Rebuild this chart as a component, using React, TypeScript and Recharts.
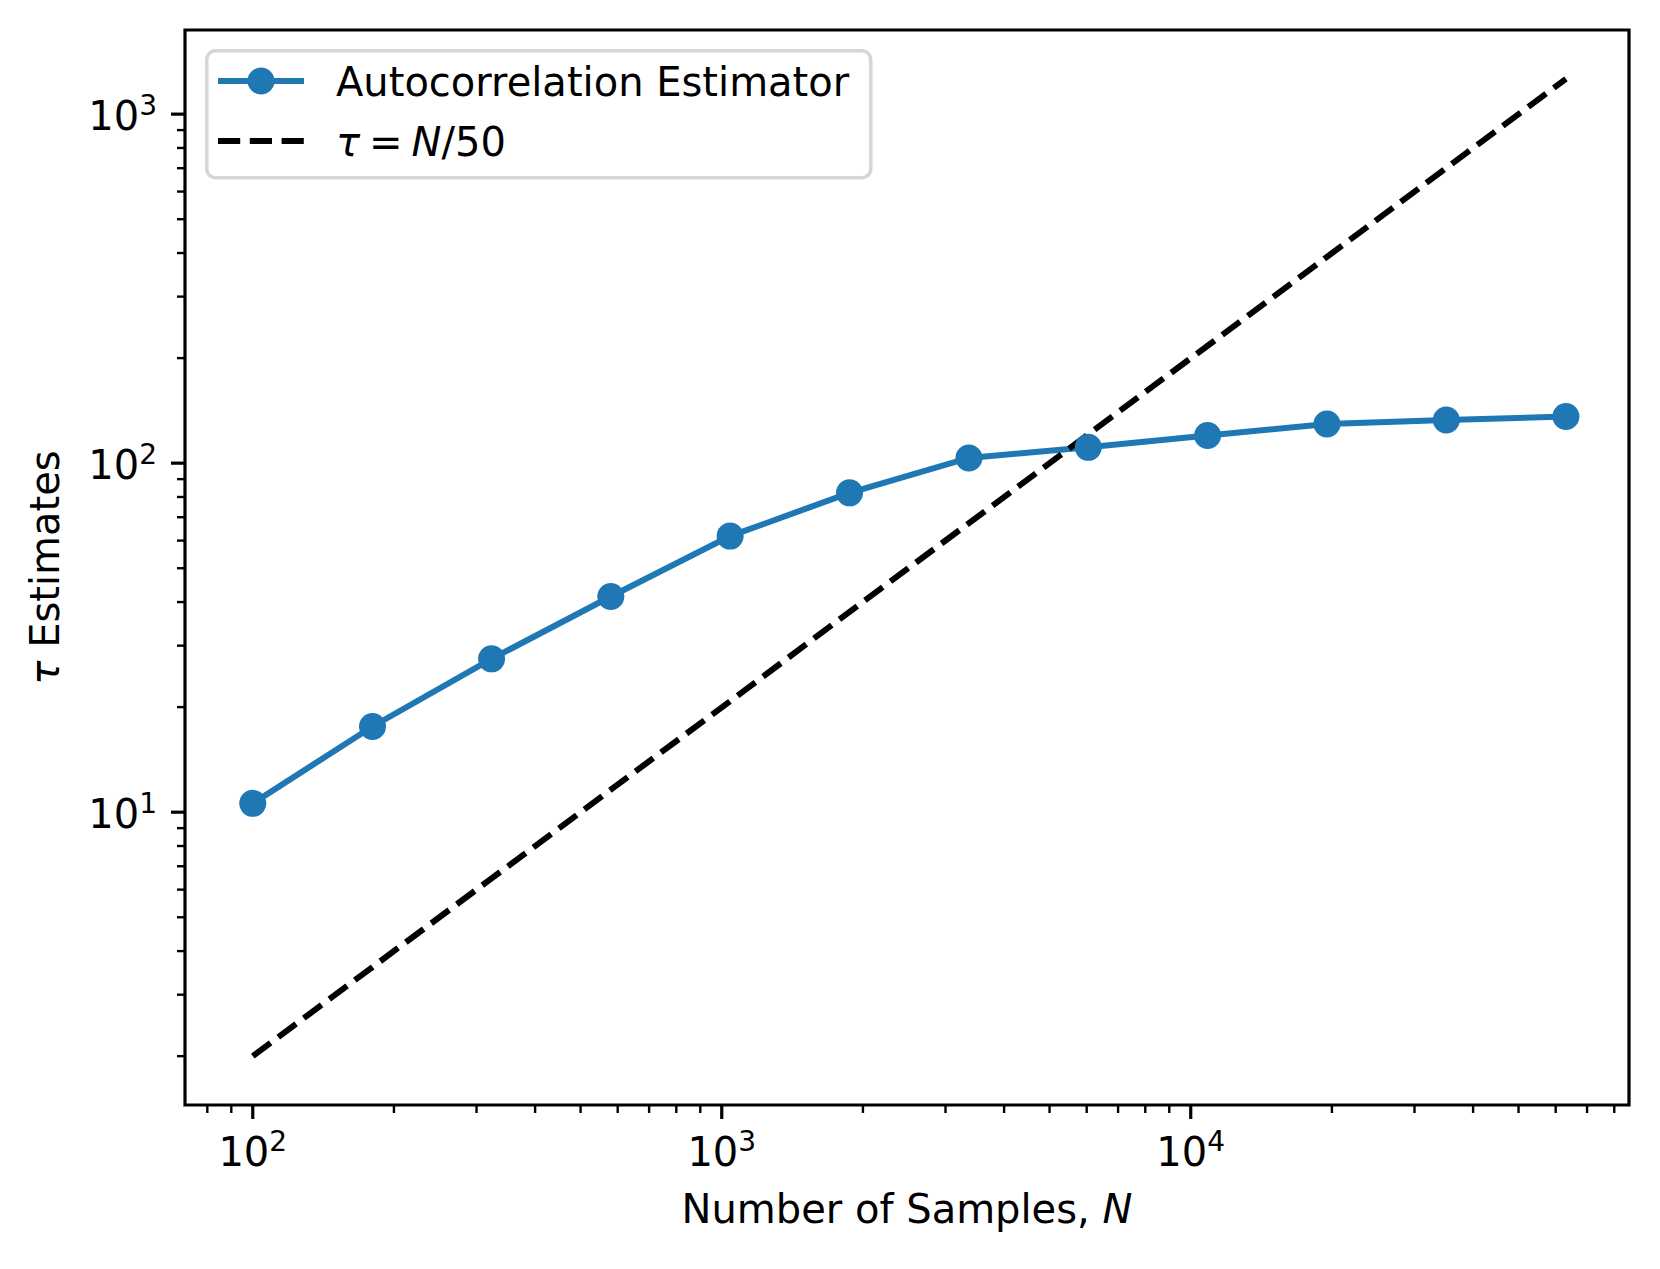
import React from "react";
import { LineChart, Line, XAxis, YAxis, ReferenceArea, Legend } from "recharts";

// N values and the autocorrelation tau estimates
const sampleCounts = [100, 180, 323, 580, 1042, 1873, 3365, 6046, 10864, 19519, 35070, 63096];
const tauEstimates = [10.6, 17.6, 27.5, 41.5, 61.8, 82.2, 103.5, 111, 120, 129.5, 133, 136];
// reference line tau = N/50
const referenceTau = [2, 3.6, 6.46, 11.6, 20.8, 37.5, 67.3, 121, 217, 390, 701, 1262];

const xMajorTicks = [100, 1000, 10000];
const xMinorTicks = [
  80, 90, 200, 300, 400, 500, 600, 700, 800, 900, 2000, 3000, 4000, 5000, 6000, 7000, 8000,
  9000, 20000, 30000, 40000, 50000, 60000, 70000, 80000,
];
const yMajorTicks = [10, 100, 1000];
const yMinorTicks = [2, 3, 4, 5, 6, 7, 8, 9, 20, 30, 40, 50, 60, 70, 80, 90, 200, 300, 400, 500, 600, 700, 800, 900];

const xDomain = [71.7, 86000];
const yDomain = [1.449, 1742];

const seriesName = "Autocorrelation Estimator";
const blue = "#1f77b4";
const font = "'DejaVu Sans', sans-serif";

const data = sampleCounts.map((n, i) => ({ n, tau: tauEstimates[i], ref: referenceTau[i] }));

const exponent = (v: number) => String(Math.round(Math.log10(v)));

const XTick = ({ x, y, payload }: any) => {
  const v = payload.value;
  const major = xMajorTicks.includes(v);
  return (
    <g>
      <line x1={x} x2={x} y1={y} y2={y + (major ? 14 : 8)} stroke="#000" strokeWidth={major ? 3.2 : 2.4} />
      {major && (
        <text x={x} y={y + 61} textAnchor="middle" fontFamily={font} fontSize={40} fill="#000">
          10
          <tspan dy={-15} fontSize={28}>
            {exponent(v)}
          </tspan>
        </text>
      )}
    </g>
  );
};

const YTick = ({ x, y, payload }: any) => {
  const v = payload.value;
  const major = yMajorTicks.includes(v);
  return (
    <g>
      <line x1={x} x2={x - (major ? 14 : 8)} y1={y} y2={y} stroke="#000" strokeWidth={major ? 3.2 : 2.4} />
      {major && (
        <text x={x - 28} y={y + 16} textAnchor="end" fontFamily={font} fontSize={40} fill="#000">
          10
          <tspan dy={-15} fontSize={28}>
            {exponent(v)}
          </tspan>
        </text>
      )}
    </g>
  );
};

const XTitle = ({ viewBox }: any) => (
  <text
    x={viewBox.x + viewBox.width / 2}
    y={viewBox.y + 118}
    textAnchor="middle"
    fontFamily={font}
    fontSize={40}
    fill="#000"
  >
    Number of Samples, <tspan fontStyle="italic">N</tspan>
  </text>
);

const YTitle = ({ viewBox }: any) => {
  const cx = 59;
  const cy = viewBox.y + viewBox.height / 2;
  return (
    <text
      x={cx}
      y={cy}
      transform={`rotate(-90, ${cx}, ${cy})`}
      textAnchor="middle"
      fontFamily={font}
      fontSize={40}
      fill="#000"
    >
      <tspan fontStyle="italic">τ</tspan> Estimates
    </text>
  );
};

const LegendBox = () => (
  <svg width={668} height={131} style={{ display: "block" }}>
    <rect x={1.75} y={1.75} width={664} height={127} rx={9} fill="#fff" fillOpacity={0.8} stroke="#d6d6d6" strokeWidth={3.5} />
    <line x1={13} x2={99} y1={32} y2={32} stroke={blue} strokeWidth={6} />
    <circle cx={56} cy={32} r={13.5} fill={blue} />
    <text x={131} y={46.5} fontFamily={font} fontSize={40} fill="#000">
      {seriesName}
    </text>
    <line x1={13} x2={99} y1={92} y2={92} stroke="#000" strokeWidth={6} strokeDasharray="22.2 9.6" />
    <text x={131} y={106.5} fontFamily={font} fontSize={40} fill="#000">
      <tspan fontStyle="italic">τ</tspan>
      <tspan dx={9}>=</tspan>
      <tspan dx={9} fontStyle="italic">N</tspan>/50
    </text>
  </svg>
);

export default function App() {
  return (
    <div style={{ position: "absolute", left: 0, top: 0, background: "#fff" }}>
      <LineChart width={1660} height={1269} data={data} margin={{ top: 30, right: 31, left: 0, bottom: 0 }}>
        <XAxis
          dataKey="n"
          type="number"
          scale="log"
          domain={xDomain}
          allowDataOverflow
          ticks={[...xMajorTicks, ...xMinorTicks].sort((a, b) => a - b)}
          interval={0}
          tick={<XTick />}
          tickLine={false}
          tickSize={0}
          tickMargin={0}
          axisLine={false}
          height={164}
          label={<XTitle />}
        />
        <YAxis
          type="number"
          scale="log"
          domain={yDomain}
          allowDataOverflow
          ticks={[...yMajorTicks, ...yMinorTicks].sort((a, b) => a - b)}
          interval={0}
          tick={<YTick />}
          tickLine={false}
          tickSize={0}
          tickMargin={0}
          axisLine={false}
          width={185}
          label={<YTitle />}
        />
        <Legend
          layout="horizontal"
          verticalAlign="middle"
          align="center"
          wrapperStyle={{ left: 205, top: 49, width: 668, height: 131 }}
          content={<LegendBox />}
        />
        <Line
          dataKey="tau"
          name={seriesName}
          stroke={blue}
          strokeWidth={6}
          dot={{ r: 13.5, fill: blue, stroke: blue, strokeWidth: 0 }}
          activeDot={false}
          isAnimationActive={false}
        />
        <Line
          dataKey="ref"
          name="tau = N/50"
          stroke="#000"
          strokeWidth={6}
          strokeDasharray="22.2 9.6"
          dot={false}
          activeDot={false}
          isAnimationActive={false}
        />
        <ReferenceArea
          x1={xDomain[0]}
          x2={xDomain[1]}
          y1={yDomain[0]}
          y2={yDomain[1]}
          fill="none"
          stroke="#000"
          strokeWidth={3.2}
          ifOverflow="visible"
        />
      </LineChart>
    </div>
  );
}
